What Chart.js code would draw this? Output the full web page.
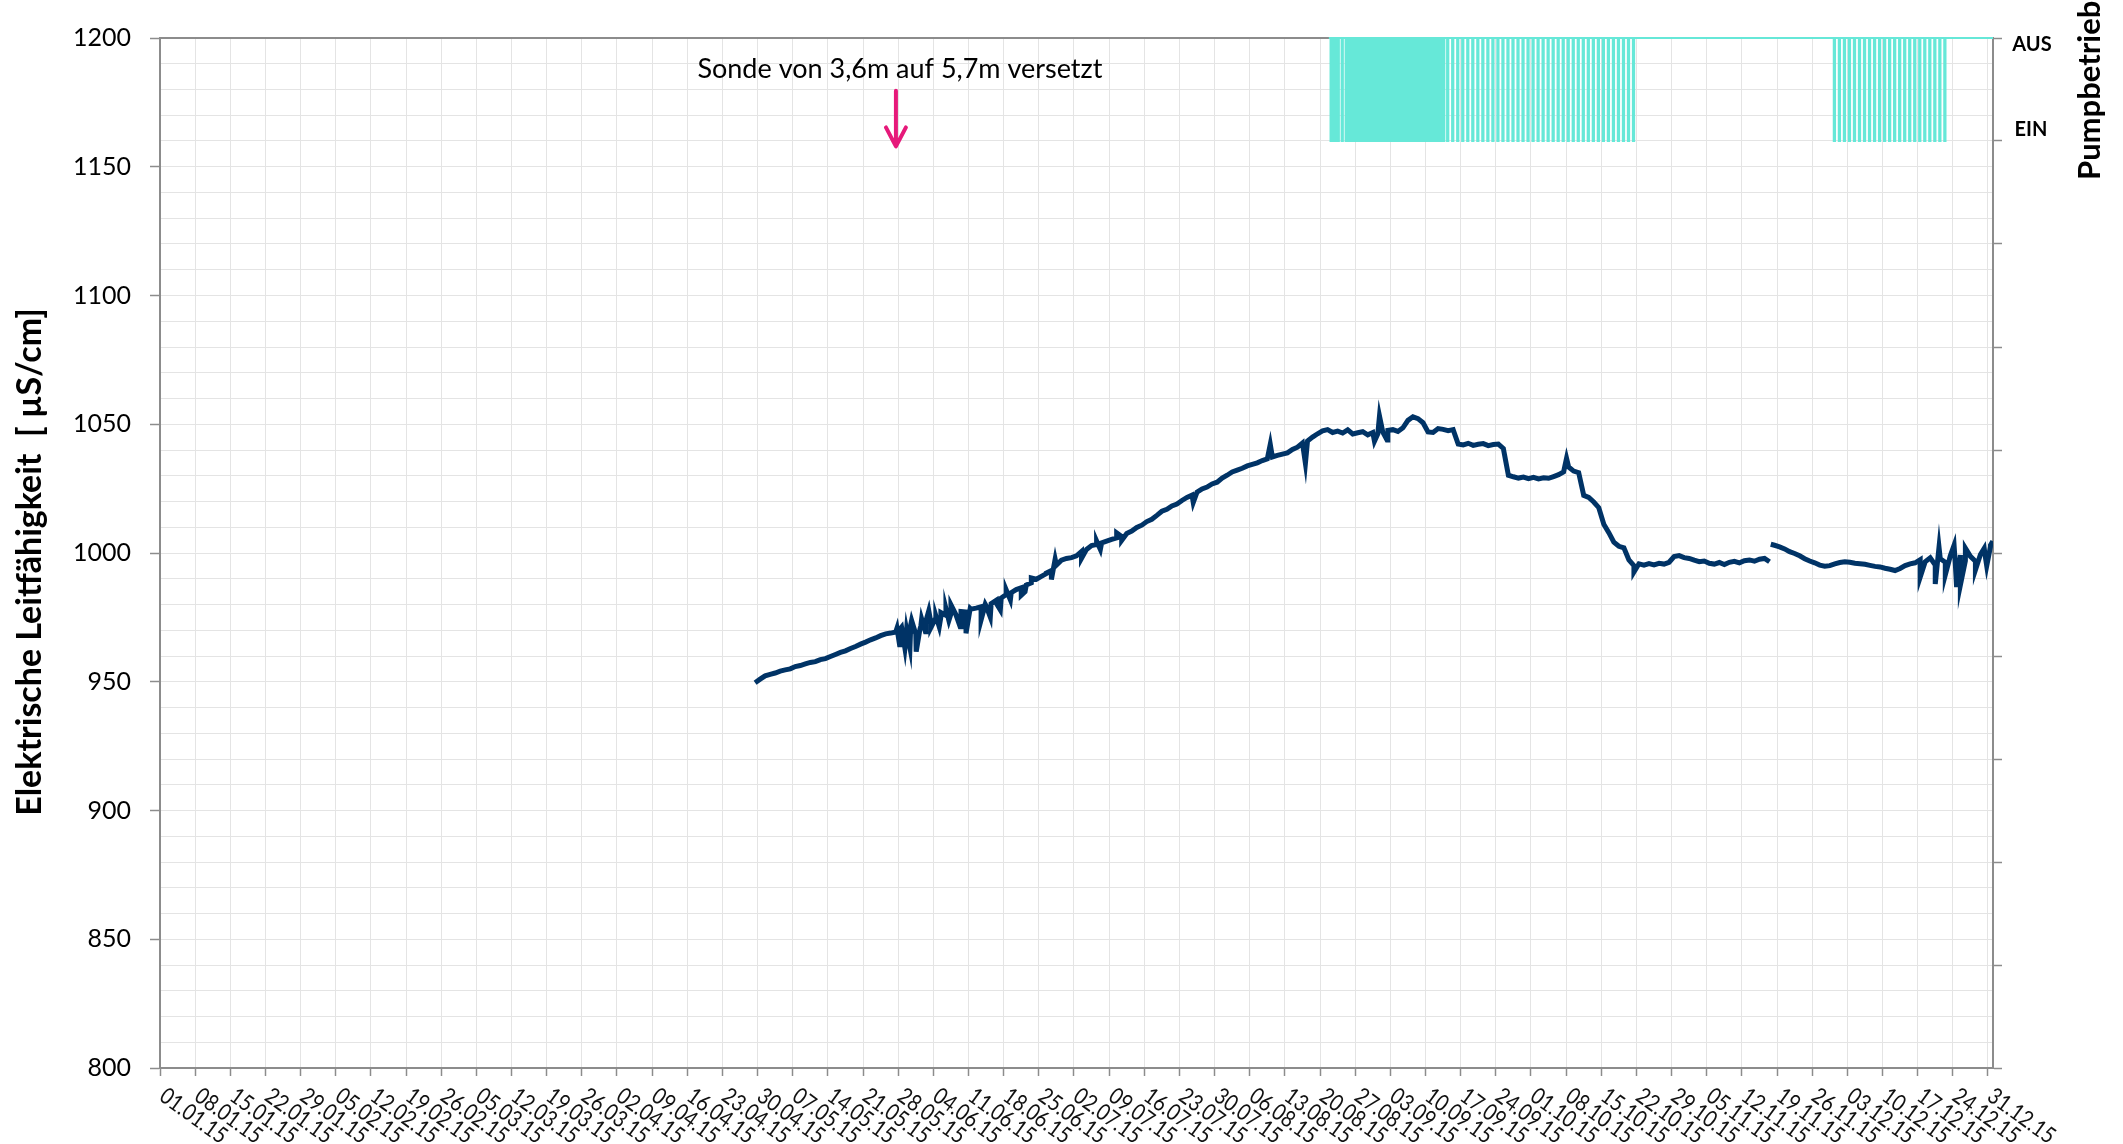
<!DOCTYPE html>
<html>
<head>
<meta charset="utf-8">
<script src="https://cdn.jsdelivr.net/npm/chart.js@4.4.1/dist/chart.umd.min.js"></script>
<style>
  html, body { margin: 0; padding: 0; background: #fff; }
  #wrap { width: 2123px; height: 1144px; }
</style>
</head>
<body>
<div id="wrap"><canvas id="c" width="2123" height="1144"></canvas></div>
<script>
// tick labels of the date axis (one per week)
const weekLabels = ['01.01.15','08.01.15','15.01.15','22.01.15','29.01.15','05.02.15','12.02.15','19.02.15','26.02.15',
  '05.03.15','12.03.15','19.03.15','26.03.15','02.04.15','09.04.15','16.04.15','23.04.15','30.04.15','07.05.15',
  '14.05.15','21.05.15','28.05.15','04.06.15','11.06.15','18.06.15','25.06.15','02.07.15','09.07.15','16.07.15',
  '23.07.15','30.07.15','06.08.15','13.08.15','20.08.15','27.08.15','03.09.15','10.09.15','17.09.15','24.09.15',
  '01.10.15','08.10.15','15.10.15','22.10.15','29.10.15','05.11.15','12.11.15','19.11.15','26.11.15','03.12.15',
  '10.12.15','17.12.15','24.12.15','31.12.15'];

// conductivity, daily readings (µS/cm), month by month
const condApr = [949.6, 951.0];   // from 29.04.
const condMay = [952.3, 952.9, 953.4, 954.1, 954.6, 955.0, 955.9, 956.3, 956.9, 957.5, 957.8, 958.6, 959.0, 959.8, 960.6,
  961.4, 962.0, 962.9, 963.7, 964.6, 965.4, 966.3, 967.0, 967.9, 968.6, 968.9, 969.3, 970.8, 966.0, 972.2, 968.5];
const condJun = [971.6, 973.5, 973.0, 974.9, 975.2, 975.8, 976.4, 976.0, 977.3, 977.1, 978.2, 978.6, 979.1, 979.5, 980.3,
  981.6, 982.5, 983.9, 984.6, 985.8, 986.5, 987.6, 988.4, 989.8, 990.9, 992.0, 993.2, 995.3, 997.2, 997.9];
const condJul = [998.2, 998.9, 1000.6, 1001.4, 1002.9, 1003.3, 1003.9, 1004.6, 1005.3, 1005.9, 1006.4, 1007.6, 1008.5,
  1009.9, 1010.8, 1012.2, 1013.1, 1014.6, 1016.2, 1017.0, 1018.3, 1019.0, 1020.4, 1021.6, 1022.5, 1023.6, 1024.9,
  1025.6, 1026.8, 1027.5, 1029.1];
const condAug = [1030.2, 1031.5, 1032.2, 1032.9, 1033.8, 1034.4, 1035.0, 1035.9, 1036.6, 1037.3, 1037.9, 1038.4, 1038.9,
  1040.2, 1041.1, 1042.7, 1043.5, 1045.0, 1046.3, 1047.4, 1047.9, 1046.8, 1047.3, 1046.6, 1047.8, 1046.2, 1046.7,
  1047.1, 1045.9, 1046.8, 1046.3];
const condSep = [1046.9, 1047.6, 1047.9, 1047.2, 1048.6, 1051.5, 1052.9, 1052.2, 1050.6, 1047.0, 1046.8, 1048.3, 1048.0,
  1047.5, 1047.9, 1042.3, 1042.0, 1042.6, 1041.8, 1042.2, 1042.5, 1041.7, 1042.1, 1042.3, 1040.6, 1030.2, 1029.6,
  1029.1, 1029.5, 1028.9];
const condOct = [1029.4, 1028.8, 1029.2, 1029.0, 1029.7, 1030.4, 1031.5, 1033.4, 1031.8, 1031.2, 1022.4, 1021.6, 1019.8,
  1017.6, 1011.2, 1007.9, 1004.2, 1002.6, 1002.0, 997.3, 995.1, 995.8, 995.3, 995.9, 995.4, 996.0, 995.7, 996.4,
  998.6, 999.0, 998.2];
const condNov = [997.9, 997.2, 996.6, 996.9, 996.0, 995.7, 996.3, 995.5, 996.4, 996.8, 996.2, 997.0, 997.3, 996.8, 997.6,
  997.9, 996.6, 1003.0, 1002.4, 1001.6, 1000.5, 999.8, 998.9, 997.8, 996.9, 996.2, 995.3, 994.9, 995.1, 995.8];
const condDec = [996.3, 996.6, 996.4, 996.0, 995.8, 995.6, 995.2, 994.8, 994.6, 994.1, 993.7, 993.2, 994.0, 995.1, 995.8,
  996.2, 997.4, 996.6, 998.1, 995.3, 997.8, 996.4, 998.9, 995.6, 999.2, 997.0, 998.7, 996.8, 999.4, 998.2, 1002.5];

// short excursions between the daily readings ('MM-DD HH', value)
const condSpikes = [['05-27 18', 970.8], ['05-28 08', 963.5], ['05-28 16', 971.2], ['05-29 08', 963.0], ['05-29 16', 970.1],
  ['05-30 08', 963.2], ['05-30 16', 973.8], ['05-31 14', 961.7], ['06-01 08', 970.5], ['06-01 16', 974.4],
  ['06-02 10', 969.4], ['06-03 02', 977.6], ['06-03 12', 971.0], ['06-04 12', 975.6], ['06-05 04', 971.3],
  ['06-05 12', 976.9], ['06-06 12', 978.4], ['06-07 02', 973.8], ['06-07 12', 979.9], ['06-09 08', 971.4],
  ['06-10 12', 968.8], ['06-11 08', 978.5], ['06-13 12', 974.0], ['06-14 08', 980.1], ['06-15 08', 975.1],
  ['06-16 12', 980.6], ['06-17 08', 977.9], ['06-18 12', 985.7], ['06-19 08', 981.8], ['06-21 12', 983.6],
  ['06-22 06', 985.0], ['06-23 12', 990.3], ['06-26 12', 992.2], ['06-27 12', 989.7], ['06-28 06', 997.6],
  ['07-03 12', 997.9], ['07-06 12', 1004.7], ['07-07 06', 1001.4], ['07-10 12', 1007.8], ['07-11 12', 1004.9],
  ['07-25 18', 1019.6], ['08-10 02', 1042.2], ['08-17 02', 1034.8], ['08-30 20', 1043.4], ['08-31 20', 1053.2],
  ['09-02 08', 1043.9], ['10-08 02', 1036.8], ['10-21 12', 992.6], ['11-17 18', 1003.4], ['12-17 12', 990.6],
  ['12-20 12', 988.0], ['12-21 06', 1002.3], ['12-22 12', 991.5], ['12-24 06', 1003.0], ['12-24 18', 986.8],
  ['12-25 12', 987.5], ['12-26 12', 1001.9], ['12-28 12', 993.4], ['12-30 06', 1001.8], ['12-30 18', 995.0],
  ['12-31 12', 1003.0], ['12-31 23', 1004.6]];
const condBreaks = ['11-17 15'];

// pump operation: days with runs, per month, and the hours of the runs
const AUS = 1, EIN = 0;
const pumpStart = '08-21 18';
const pumpTwiceHours = [[2, 6], [14, 18]];
const pumpOnceHours = [[7, 13]];
const pumpAugTwice = [22, 23, 25, 26, 27, 28, 29, 30, 31];
const pumpAugOnce = [24];
const pumpSepTwice = [1, 2, 3, 4, 5, 6, 7, 8, 9, 10, 11, 12, 13];
const pumpSepOnce = [14, 15, 16, 17, 18, 19, 20, 21, 22, 23, 24, 25, 26, 27, 28, 29, 30];
const pumpOctOnce = [1, 2, 3, 4, 5, 6, 7, 8, 9, 10, 11, 12, 13, 14, 15, 16, 17, 18, 19, 20, 21];
const pumpNovOnce = [30];
const pumpDecOnce = [1, 2, 3, 4, 5, 6, 7, 8, 9, 10, 11, 12, 13, 14, 15, 16, 17, 18, 19, 20, 21, 22];

const noteText = 'Sonde von 3,6m auf 5,7m versetzt';
const noteWhen = '05-27 13';

function dayOf(month, day, hour) {
  return (Date.UTC(2015, month - 1, day, hour || 0) - Date.UTC(2015, 0, 1)) / 86400000;
}
function stamp(s) {
  return dayOf(+s.slice(0, 2), +s.slice(3, 5), +s.slice(6, 8));
}

const weekTicks = weekLabels.map(l => dayOf(+l.slice(3, 5), +l.slice(0, 2)));

const condPoints = [];
[[4, 29, condApr], [5, 1, condMay], [6, 1, condJun], [7, 1, condJul], [8, 1, condAug],
 [9, 1, condSep], [10, 1, condOct], [11, 1, condNov], [12, 1, condDec]].forEach(([m, first, vals]) => {
  vals.forEach((v, i) => condPoints.push({x: dayOf(m, first + i, 12), y: v}));
});
condSpikes.forEach(([t, v]) => condPoints.push({x: stamp(t), y: v}));
condBreaks.forEach(t => condPoints.push({x: stamp(t), y: null}));
condPoints.sort((a, b) => a.x - b.x);

const pumpPoints = [];
function addRuns(month, days, hours) {
  days.forEach(d => hours.forEach(([on, off]) => {
    pumpPoints.push({x: dayOf(month, d, on), y: EIN});
    pumpPoints.push({x: dayOf(month, d, off), y: AUS});
  }));
}
addRuns(8, pumpAugTwice, pumpTwiceHours);
addRuns(8, pumpAugOnce, pumpOnceHours);
addRuns(9, pumpSepTwice, pumpTwiceHours);
addRuns(9, pumpSepOnce, pumpOnceHours);
addRuns(10, pumpOctOnce, pumpOnceHours);
addRuns(11, pumpNovOnce, pumpOnceHours);
addRuns(12, pumpDecOnce, pumpOnceHours);
pumpPoints.sort((a, b) => a.x - b.x);
pumpPoints.unshift({x: stamp(pumpStart), y: AUS});
pumpPoints.push({x: 365, y: AUS});

const AXIS = '#8c8c8c';
const GRID = '#e4e4e4';
const FONT = 'Lato';

const decor = {
  id: 'decor',
  beforeDatasetsDraw(chart) {
    const {ctx, chartArea: a} = chart;
    ctx.save();
    ctx.strokeStyle = AXIS;
    ctx.lineWidth = 2;
    ctx.beginPath();
    ctx.moveTo(a.left, a.top);
    ctx.lineTo(a.right, a.top);
    ctx.stroke();
    ctx.restore();
  },
  afterDraw(chart) {
    const {ctx, chartArea: a} = chart;
    const xs = chart.scales.x, ys = chart.scales.y, y2 = chart.scales.y2;
    ctx.save();

    // rotated date labels (narrow face, like the original)
    ctx.fillStyle = '#111';
    ctx.font = '23px ' + FONT;
    ctx.textAlign = 'left';
    ctx.textBaseline = 'top';
    weekLabels.forEach((lab, i) => {
      const px = xs.getPixelForValue(weekTicks[i]);
      ctx.save();
      ctx.translate(px + 9, a.bottom + 16);
      ctx.rotate(36 * Math.PI / 180);
      ctx.scale(0.85, 1);
      ctx.fillText(lab, 0, 0);
      ctx.restore();
    });

    // axis titles
    ctx.fillStyle = '#000';
    ctx.textBaseline = 'middle';
    ctx.save();
    ctx.translate(30, 562);
    ctx.rotate(-Math.PI / 2);
    ctx.textAlign = 'center';
    ctx.font = 'bold 34px ' + FONT;
    ctx.fillText('Elektrische Leitfähigkeit  [ µS/cm]', 0, 0);
    ctx.restore();

    ctx.save();
    ctx.translate(2090, 180);
    ctx.rotate(-Math.PI / 2);
    ctx.textAlign = 'left';
    ctx.font = 'bold 31px ' + FONT;
    ctx.fillText('Pumpbetrieb', 0, 0);
    ctx.restore();

    // pump state labels
    ctx.textAlign = 'center';
    ctx.font = 'bold 20px ' + FONT;
    ctx.fillText('AUS', 2032, y2.getPixelForValue(AUS) + 7);
    ctx.fillText('EIN', 2031, y2.getPixelForValue(EIN) - 11);

    // note with arrow
    const nx = xs.getPixelForValue(stamp(noteWhen));
    ctx.font = '27px ' + FONT;
    ctx.fillText(noteText, nx + 4, ys.getPixelForValue(1188));
    const top = ys.getPixelForValue(1179.5), tip = ys.getPixelForValue(1157.5);
    ctx.strokeStyle = '#e6197a';
    ctx.lineWidth = 4;
    ctx.lineCap = 'round';
    ctx.lineJoin = 'round';
    ctx.beginPath();
    ctx.moveTo(nx, top);
    ctx.lineTo(nx, tip - 2);
    ctx.moveTo(nx - 10, tip - 20);
    ctx.lineTo(nx, tip - 1);
    ctx.lineTo(nx + 10, tip - 20);
    ctx.stroke();

    ctx.restore();
  }
};

new Chart(document.getElementById('c'), {
  type: 'line',
  data: {
    datasets: [
      {
        label: 'Elektrische Leitfähigkeit',
        data: condPoints,
        yAxisID: 'y',
        borderColor: '#003366',
        borderWidth: 5,
        pointRadius: 0,
        spanGaps: false,
        tension: 0
      },
      {
        label: 'Pumpbetrieb',
        data: pumpPoints,
        yAxisID: 'y2',
        borderColor: '#66e8d8',
        borderWidth: 2,
        pointRadius: 0,
        stepped: 'before',
        clip: 3
      }
    ]
  },
  plugins: [decor],
  options: {
    responsive: false,
    animation: false,
    layout: {padding: {top: 38, left: 0, right: 0, bottom: 0}},
    plugins: {legend: {display: false}, tooltip: {enabled: false}},
    scales: {
      x: {
        type: 'linear',
        min: 0,
        max: 365,
        afterBuildTicks: s => { s.ticks = weekTicks.map(v => ({value: v})); },
        afterFit: s => { s.height = 76; },
        ticks: {display: false},
        grid: {color: GRID, lineWidth: 1, tickLength: 8, tickColor: AXIS, tickWidth: 1.5},
        border: {color: AXIS, width: 2}
      },
      y: {
        position: 'left',
        min: 800,
        max: 1200,
        afterFit: s => { s.width = 160; },
        ticks: {
          stepSize: 10,
          autoSkip: false,
          padding: 19,
          color: '#000',
          font: {family: FONT, size: 25},
          callback: v => (v % 50 === 0 ? String(v) : '')
        },
        grid: {
          color: GRID,
          lineWidth: 1,
          tickLength: 10,
          tickWidth: 1.5,
          tickColor: c => (c.tick && c.tick.value % 50 === 0 ? AXIS : 'rgba(0,0,0,0)')
        },
        border: {color: AXIS, width: 2}
      },
      y2: {
        position: 'right',
        min: -9,
        max: 1,
        afterFit: s => { s.width = 130; },
        ticks: {stepSize: 1, autoSkip: false, callback: () => ''},
        grid: {drawOnChartArea: false, tickLength: 9, tickColor: AXIS, tickWidth: 1.5},
        border: {color: AXIS, width: 2}
      }
    }
  }
});
</script>
</body>
</html>
